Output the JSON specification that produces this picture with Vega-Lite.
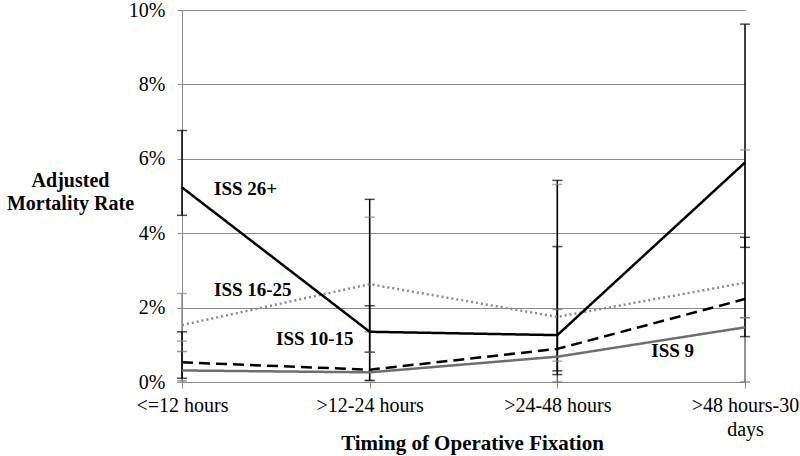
{
  "$schema": "https://vega.github.io/schema/vega-lite/v6.json",
  "width": 563,
  "height": 372,
  "autosize": {"type": "none"},
  "padding": {"left": 182, "top": 10, "right": 55, "bottom": 74},
  "background": "white",
  "config": {
    "view": {"stroke": null},
    "font": "Liberation Serif",
    "axis": {
      "labelFont": "Liberation Serif",
      "titleFont": "Liberation Serif",
      "labelColor": "black",
      "titleColor": "black",
      "labelFontSize": 20,
      "domainColor": "#8c8c8c",
      "tickColor": "#8c8c8c",
      "gridColor": "#8c8c8c",
      "gridOpacity": 1,
      "domainWidth": 1,
      "gridWidth": 1
    }
  },
  "datasets": {
    "rates": [
      {"timing": "<=12 hours", "series": "ISS 16-25", "rate": 0.0153, "lo": 0.0110, "hi": 0.0238},
      {"timing": ">12-24 hours", "series": "ISS 16-25", "rate": 0.0263, "lo": 0.0135, "hi": 0.0443},
      {"timing": ">24-48 hours", "series": "ISS 16-25", "rate": 0.0175, "lo": 0.0056, "hi": 0.0531},
      {"timing": ">48 hours-30 days", "series": "ISS 16-25", "rate": 0.0267, "lo": 0.0173, "hi": 0.0624},
      {"timing": "<=12 hours", "series": "ISS 9", "rate": 0.0031, "lo": 0.0003, "hi": 0.0082},
      {"timing": ">12-24 hours", "series": "ISS 9", "rate": 0.0026, "lo": 0.0004, "hi": 0.0080},
      {"timing": ">24-48 hours", "series": "ISS 9", "rate": 0.0068, "lo": 0.0000, "hi": 0.0195},
      {"timing": ">48 hours-30 days", "series": "ISS 9", "rate": 0.0147, "lo": 0.0000, "hi": 0.0173},
      {"timing": "<=12 hours", "series": "ISS 10-15", "rate": 0.0053, "lo": 0.0010, "hi": 0.0135},
      {"timing": ">12-24 hours", "series": "ISS 10-15", "rate": 0.0033, "lo": 0.0004, "hi": 0.0205},
      {"timing": ">24-48 hours", "series": "ISS 10-15", "rate": 0.0089, "lo": 0.0020, "hi": 0.0364},
      {"timing": ">48 hours-30 days", "series": "ISS 10-15", "rate": 0.0223, "lo": 0.0122, "hi": 0.0389},
      {"timing": "<=12 hours", "series": "ISS 26+", "rate": 0.0523, "lo": 0.0448, "hi": 0.0676},
      {"timing": ">12-24 hours", "series": "ISS 26+", "rate": 0.0135, "lo": 0.0080, "hi": 0.0491},
      {"timing": ">24-48 hours", "series": "ISS 26+", "rate": 0.0126, "lo": 0.0030, "hi": 0.0542},
      {"timing": ">48 hours-30 days", "series": "ISS 26+", "rate": 0.0590, "lo": 0.0362, "hi": 0.0962}
    ],
    "labels": [
      {"label": "ISS 26+", "timing": "<=12 hours", "rate": 0.0518, "group": "a"},
      {"label": "ISS 16-25", "timing": "<=12 hours", "rate": 0.0247, "group": "a"},
      {"label": "ISS 10-15", "timing": "<=12 hours", "rate": 0.0116, "group": "b"},
      {"label": "ISS 9", "timing": ">24-48 hours", "rate": 0.0084, "group": "b"}
    ]
  },
  "layer": [
    {
      "data": {"name": "rates"},
      "mark": {"type": "rule", "strokeWidth": 1.5},
      "encoding": {
        "x": {"field": "timing", "type": "ordinal"},
        "y": {"field": "lo", "type": "quantitative"},
        "y2": {"field": "hi"},
        "color": {"field": "series", "type": "nominal", "legend": null}
      }
    },
    {
      "data": {"name": "rates"},
      "mark": {"type": "tick", "size": 10, "thickness": 1.5, "orient": "horizontal"},
      "encoding": {
        "x": {"field": "timing", "type": "ordinal"},
        "y": {"field": "lo", "type": "quantitative"},
        "color": {"field": "series", "type": "nominal", "legend": null}
      }
    },
    {
      "data": {"name": "rates"},
      "mark": {"type": "tick", "size": 10, "thickness": 1.5, "orient": "horizontal"},
      "encoding": {
        "x": {"field": "timing", "type": "ordinal"},
        "y": {"field": "hi", "type": "quantitative"},
        "color": {"field": "series", "type": "nominal", "legend": null}
      }
    },
    {
      "data": {"name": "rates"},
      "mark": {"type": "line", "strokeWidth": 2.5},
      "encoding": {
        "x": {
          "field": "timing",
          "type": "ordinal",
          "sort": ["<=12 hours", ">12-24 hours", ">24-48 hours", ">48 hours-30 days"],
          "scale": {"type": "point", "padding": 0, "domain": ["<=12 hours", ">12-24 hours", ">24-48 hours", ">48 hours-30 days"]},
          "title": "Timing of Operative Fixation",
          "axis": {
            "labelAngle": 0,
            "labelAlign": "center",
            "grid": false,
            "tickSize": 6,
            "labelPadding": 7,
            "labelBaseline": "top",
            "labelLineHeight": 24,
            "labelOverlap": false,
            "labelFlush": false,
            "labelBound": false,
            "labelExpr": "datum.value == '>48 hours-30 days' ? ['>48 hours-30', 'days'] : datum.value",
            "titleFontSize": 21,
            "titleFontWeight": "bold",
            "titleX": 290,
            "titleY": 61,
            "titleAlign": "center",
            "titleBaseline": "middle"
          }
        },
        "y": {
          "field": "rate",
          "type": "quantitative",
          "scale": {"domain": [0, 0.1], "nice": false, "zero": true},
          "title": ["Adjusted", "Mortality Rate"],
          "axis": {
            "values": [0, 0.02, 0.04, 0.06, 0.08, 0.1],
            "format": ".0%",
            "grid": true,
            "tickSize": 5,
            "labelPadding": 12,
            "labelFont": "Liberation Serif",
            "titleAngle": 0,
            "titleFontSize": 20,
            "titleFontWeight": "bold",
            "titleX": -112,
            "titleY": 170,
            "titleAlign": "center",
            "titleBaseline": "middle",
            "titleLineHeight": 23
          }
        },
        "color": {
          "field": "series",
          "type": "nominal",
          "scale": {"domain": ["ISS 26+", "ISS 16-25", "ISS 10-15", "ISS 9"], "range": ["#000000", "#8a8a8a", "#000000", "#6e6e6e"]},
          "legend": null
        },
        "strokeDash": {
          "field": "series",
          "type": "nominal",
          "scale": {"domain": ["ISS 26+", "ISS 16-25", "ISS 10-15", "ISS 9"], "range": [[1, 0], [2, 3], [11, 6], [1, 0]]},
          "legend": null
        }
      }
    },
    {
      "data": {"name": "labels"},
      "transform": [{"filter": "datum.group == 'a'"}],
      "mark": {"type": "text", "align": "left", "baseline": "middle", "dx": 32, "fontSize": 19, "fontWeight": "bold", "font": "Liberation Serif", "color": "black"},
      "encoding": {
        "x": {"field": "timing", "type": "ordinal"},
        "y": {"field": "rate", "type": "quantitative"},
        "text": {"field": "label"}
      }
    },
    {
      "data": {"name": "labels"},
      "transform": [{"filter": "datum.group == 'b'"}],
      "mark": {"type": "text", "align": "left", "baseline": "middle", "dx": 94, "fontSize": 19, "fontWeight": "bold", "font": "Liberation Serif", "color": "black"},
      "encoding": {
        "x": {"field": "timing", "type": "ordinal"},
        "y": {"field": "rate", "type": "quantitative"},
        "text": {"field": "label"}
      }
    }
  ]
}
